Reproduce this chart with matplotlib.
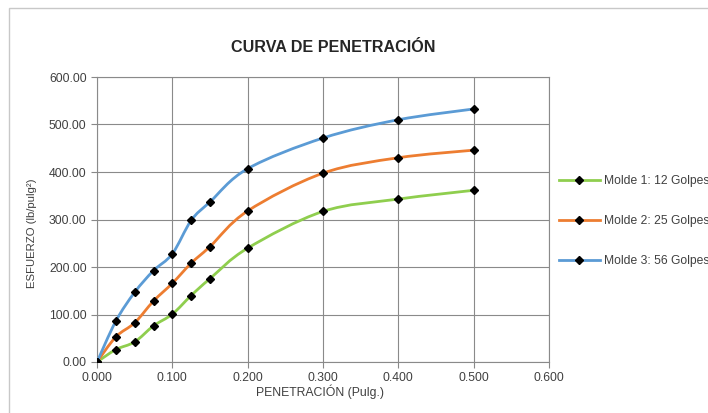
import matplotlib
matplotlib.use("Agg")
import matplotlib.pyplot as plt
from matplotlib.path import Path
from matplotlib.patches import PathPatch, Rectangle
from matplotlib.lines import Line2D
import numpy as np

plt.rcParams['font.family'] = ['Liberation Sans', 'DejaVu Sans']

# penetration (inches) and stress for each mould
penetracion = [0.000, 0.025, 0.050, 0.075, 0.100, 0.125, 0.150, 0.200, 0.300, 0.400, 0.500]
molde_1 = [0.0, 26.2, 42.3, 76.1, 100.8, 140.0, 175.5, 239.7, 317.0, 343.0, 361.5]
molde_2 = [0.0, 52.9, 82.5, 128.3, 165.7, 208.0, 243.0, 318.0, 397.5, 430.0, 446.0]
molde_3 = [0.0, 86.0, 146.7, 192.4, 227.7, 298.0, 337.0, 407.0, 471.5, 510.0, 532.7]

series_labels = ["Molde 1: 12 Golpes", "Molde 2: 25 Golpes", "Molde 3: 56 Golpes"]
series_colors = ["#8fce4e", "#ed7d31", "#5b9bd5"]

x_ticks = [0.0, 0.1, 0.2, 0.3, 0.4, 0.5, 0.6]
y_ticks = [0, 100, 200, 300, 400, 500, 600]


def smooth_path(xs, ys):
    # excel-style smoothed line: catmull-rom segments as cubic beziers
    pts = np.column_stack([xs, ys]).astype(float)
    n = len(pts)
    verts = [pts[0]]
    codes = [Path.MOVETO]
    for i in range(n - 1):
        p0 = pts[i - 1] if i > 0 else pts[i]
        p1 = pts[i]
        p2 = pts[i + 1]
        p3 = pts[i + 2] if i + 2 < n else pts[i + 1]
        c1 = p1 + (p2 - p0) / 6.0
        c2 = p2 - (p3 - p1) / 6.0
        verts += [c1, c2, p2]
        codes += [Path.CURVE4] * 3
    return Path(verts, codes)


fig = plt.figure(figsize=(7.08, 4.13), dpi=100)
fig.patches.append(Rectangle((9 / 708, -0.1), 1.2, 1 - 8 / 413 + 0.1,
                             transform=fig.transFigure, fill=False,
                             edgecolor="#c8c8c8", lw=1.0))

ax = fig.add_axes([97 / 708, 1 - 362 / 413, (549 - 97) / 708, (362 - 77) / 413])

handles = []
for ys, col, lab in zip([molde_1, molde_2, molde_3], series_colors, series_labels):
    ax.add_patch(PathPatch(smooth_path(penetracion, ys), facecolor="none",
                           edgecolor=col, lw=2.0, zorder=3))
    ax.plot(penetracion, ys, linestyle="none", marker="D", markersize=3.6,
            color="black", zorder=4)
    handles.append(Line2D([], [], color=col, lw=2.0, marker="D",
                          markersize=3.6, markerfacecolor="black",
                          markeredgecolor="black", label=lab))

ax.set_xlim(0, 0.6)
ax.set_ylim(0, 600)
ax.set_xticks(x_ticks)
ax.set_yticks(y_ticks)
ax.set_xticklabels([f"{v:.3f}" for v in x_ticks])
ax.set_yticklabels([f"{v:.2f}" for v in y_ticks])
ax.tick_params(labelsize=8.8, colors="#404040", length=4, width=0.8)
ax.tick_params(axis="both", color="#888888")
ax.grid(True, color="#8a8a8a", lw=0.8)
ax.set_axisbelow(True)
for s in ax.spines.values():
    s.set_color("#8a8a8a")
    s.set_linewidth(0.8)

fig.text(333 / 708, 1 - 47 / 413, "CURVA DE PENETRACIÓN", ha="center",
         va="center", fontsize=11.6, fontweight="bold", color="#262626")
fig.text(320 / 708, 1 - 392 / 413, "PENETRACIÓN (Pulg.)", ha="center",
         va="center", fontsize=8.8, color="#404040")
fig.text(32 / 708, 1 - 233 / 413, "ESFUERZO (lb/pulg²)", ha="center",
         va="center", rotation=90, fontsize=8.2, color="#404040")

fig.legend(handles=handles, loc="center left",
           bbox_to_anchor=(548 / 708, 1 - 221 / 413), frameon=False,
           fontsize=8.7, handlelength=3.4, handletextpad=0.3,
           labelspacing=2.3, labelcolor="#404040")

fig.savefig("out.png", dpi=100)
